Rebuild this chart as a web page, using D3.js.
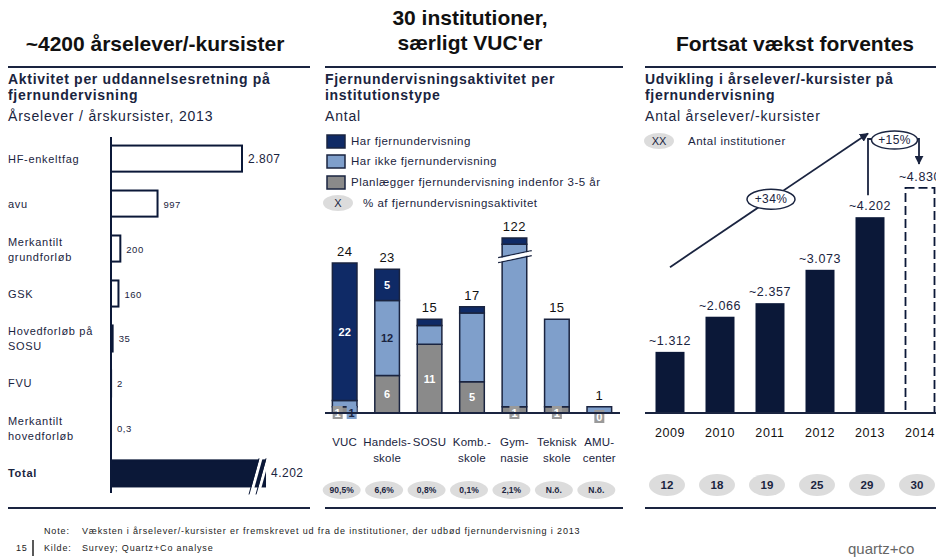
<!DOCTYPE html>
<html>
<head>
<meta charset="utf-8">
<script src="https://cdn.jsdelivr.net/npm/d3@7"></script>
<style>
  body { margin: 0; background: #fff; }
  svg { font-family: "Liberation Sans", Arial, sans-serif; }
</style>
</head>
<body>
<svg id="chart" width="936" height="558"></svg>
<script>
// ---- data: left panel (årselever per uddannelsesretning, 2013)
const leftCategories = ["HF-enkeltfag", "avu", "Merkantilt\ngrundforløb", "GSK", "Hovedforløb på\nSOSU", "FVU", "Merkantilt\nhovedforløb", "Total"];
const leftValues = [2807, 997, 200, 160, 35, 2, 0.3, 4202];
const leftLabels = ["2.807", "997", "200", "160", "35", "2", "0,3", "4.202"];

// ---- data: middle panel (institutioner per type)
const instCategories = ["VUC", "Handels-\nskole", "SOSU", "Komb.-\nskole", "Gym-\nnasie", "Teknisk\nskole", "AMU-\ncenter"];
const planlaegger = [1, 6, 11, 5, 1, 1, 0];
const harIkke = [1, 12, 3, 11, 120, 14, 1];
const harFjern = [22, 5, 1, 1, 1, 0, 0];
const instTotals = [24, 23, 15, 17, 122, 15, 1];
const harFjernLabels = ["22", "5", "", "", "", "", ""];
const harIkkeLabels = ["1", "12", "", "", "", "", ""];
const planLabels = ["1", "6", "11", "5", "1", "1", "0"];
const pctLabels = ["90,5%", "6,6%", "0,8%", "0,1%", "2,1%", "N.ö.", "N.ö."];

// ---- data: right panel (udvikling)
const years = ["2009", "2010", "2011", "2012", "2013", "2014"];
const students = [1312, 2066, 2357, 3073, 4202, 4830];
const studentLabels = ["~1.312", "~2.066", "~2.357", "~3.073", "~4.202", "~4.830"];
const institutions = [12, 18, 19, 25, 29, 30];

const navy = "#0b1838";
const midDark = "#0f2a66";
const midLight = "#7f9fcb";
const midGray = "#8a8a8a";
const textNavy = "#1a2440";

const svg = d3.select("#chart");

function multiText(sel, str, lineH) {
    const lines = str.split("\n");
    lines.forEach((l, i) => {
        sel.append("tspan").attr("x", sel.attr("x")).attr("dy", i === 0 ? 0 : lineH).text(l);
    });
}

// ---- panel headers and rules
const headers = [
    { x: 155, lines: ["~4200 årselever/-kursister"], y: 51 },
    { x: 470, lines: ["30 institutioner,", "særligt VUC'er"], y: 25 },
    { x: 795, lines: ["Fortsat vækst forventes"], y: 51 }
];
headers.forEach(h => {
    const t = svg.append("text")
        .attr("x", h.x).attr("y", h.y)
        .attr("text-anchor", "middle")
        .attr("font-family", "'Liberation Sans Narrow', 'Arial Narrow', sans-serif")
        .attr("font-weight", "bold")
        .attr("font-size", 21)
        .attr("fill", "#111");
    multiText(t, h.lines.join("\n"), 25);
});

[[8, 310], [325, 623], [645, 936]].forEach(([a, b]) => {
    svg.append("line").attr("x1", a).attr("x2", b).attr("y1", 67).attr("y2", 67)
        .attr("stroke", textNavy).attr("stroke-width", 2);
    svg.append("line").attr("x1", a).attr("x2", b).attr("y1", 508).attr("y2", 508)
        .attr("stroke", textNavy).attr("stroke-width", 2);
});

function panelTitle(x, bold, sub) {
    const t = svg.append("text").attr("x", x).attr("y", 84)
        .attr("font-size", 14).attr("letter-spacing", 0.7)
        .attr("font-weight", "bold").attr("fill", textNavy);
    multiText(t, bold, 16);
    svg.append("text").attr("x", x).attr("y", 121)
        .attr("font-size", 14).attr("letter-spacing", 0.8)
        .attr("fill", textNavy).text(sub);
}
panelTitle(8, "Aktivitet per uddannelsesretning  på\nfjernundervisning", "Årselever  / årskursister,  2013");
panelTitle(325, "Fjernundervisningsaktivitet per\ninstitutionstype", "Antal");
panelTitle(645, "Udvikling i årselever/-kursister  på\nfjernundervisning", "Antal årselever/-kursister");

// ---- left panel: horizontal bars
const xL = d3.scaleLinear().domain([0, 2807]).range([111, 242]);
const yL = d3.scaleBand().domain(leftCategories).range([137, 495]).paddingInner(0.42).paddingOuter(0.19);
const leftCap = 3300; // Total is drawn with a break

const left = svg.append("g");
left.selectAll("rect.lbar")
    .data(leftValues)
    .enter()
    .append("rect")
    .attr("class", "lbar")
    .attr("x", xL(0))
    .attr("y", (d, i) => yL(leftCategories[i]))
    .attr("width", (d) => xL(Math.min(d, leftCap)) - xL(0))
    .attr("height", yL.bandwidth())
    .attr("fill", (d, i) => leftCategories[i] === "Total" ? navy : "#fff")
    .attr("stroke", navy)
    .attr("stroke-width", 2);

left.append("line")
    .attr("x1", xL(0)).attr("x2", xL(0))
    .attr("y1", 137).attr("y2", 493)
    .attr("stroke", navy).attr("stroke-width", 2);

// break marks on Total
const tY = yL("Total"), tH = yL.bandwidth(), tEnd = xL(leftCap);
[-12, -5].forEach(off => {
    left.append("line")
        .attr("x1", tEnd + off - 2).attr("y1", tY + tH + 8)
        .attr("x2", tEnd + off + 8).attr("y2", tY - 2)
        .attr("stroke", "#fff").attr("stroke-width", 3);
    left.append("line")
        .attr("x1", tEnd + off - 4).attr("y1", tY + tH + 8)
        .attr("x2", tEnd + off + 6).attr("y2", tY - 2)
        .attr("stroke", navy).attr("stroke-width", 1);
});

left.selectAll("text.lcat")
    .data(leftCategories)
    .enter()
    .append("text")
    .attr("class", "lcat")
    .attr("x", 8)
    .attr("y", d => yL(d) + yL.bandwidth() / 2 + 4 - (d.includes("\n") ? 7 : 0))
    .attr("font-size", 11)
    .attr("letter-spacing", 0.7)
    .attr("font-weight", d => d === "Total" ? "bold" : "normal")
    .attr("fill", textNavy)
    .each(function (d) { multiText(d3.select(this), d, 15); });

left.selectAll("text.lval")
    .data(leftValues)
    .enter()
    .append("text")
    .attr("class", "lval")
    .attr("x", (d) => xL(Math.min(d, leftCap)) + 6)
    .attr("y", (d, i) => yL(leftCategories[i]) + yL.bandwidth() / 2 + 4)
    .attr("font-size", (d, i) => i === 0 || i === 7 ? 12 : 9.5)
    .attr("letter-spacing", 0.5)
    .attr("fill", textNavy)
    .text((d, i) => leftLabels[i]);

// ---- middle panel: stacked bars
const xM = d3.scaleBand().domain(instCategories).range([326, 618]).paddingInner(0.42).paddingOuter(0.15);
const midCap = 28;
const yM = d3.scaleLinear().domain([0, midCap]).range([413, 238]);

const series = [
    { name: "plan", values: planlaegger, labels: planLabels, color: midGray },
    { name: "ikke", values: harIkke, labels: harIkkeLabels, color: midLight },
    { name: "har", values: harFjern, labels: harFjernLabels, color: midDark }
];

// legend
const legendItems = [
    { color: midDark, text: "Har fjernundervisning", y: 135 },
    { color: midLight, text: "Har ikke fjernundervisning", y: 155 },
    { color: midGray, text: "Planlægger fjernundervisning indenfor 3-5 år", y: 176 }
];
legendItems.forEach(l => {
    svg.append("rect").attr("x", 327).attr("y", l.y).attr("width", 18).attr("height", 13)
        .attr("fill", l.color).attr("stroke", textNavy).attr("stroke-width", 1.5);
    svg.append("text").attr("x", 351).attr("y", l.y + 10).attr("font-size", 11.5)
        .attr("letter-spacing", 0.5)
        .attr("fill", textNavy).text(l.text);
});
svg.append("ellipse").attr("cx", 338).attr("cy", 203).attr("rx", 15).attr("ry", 8).attr("fill", "#dcdcdc");
svg.append("text").attr("x", 338).attr("y", 207).attr("text-anchor", "middle").attr("font-size", 11)
    .attr("fill", textNavy).text("X");
svg.append("text").attr("x", 363).attr("y", 207).attr("font-size", 11.5).attr("letter-spacing", 0.5)
    .attr("fill", textNavy).text("% af fjernundervisningsaktivitet");

const mid = svg.append("g");
instCategories.forEach((cat, i) => {
    const total = instTotals[i];
    const shift = total > midCap ? total - midCap : 0;
    const brokenStart = planlaegger[i];
    const disp = v => (shift && v > brokenStart) ? v - shift : v;
    let cum = 0;
    const x0 = xM(cat), bw = xM.bandwidth(), cx = x0 + bw / 2;
    const baseBoxes = [];
    series.forEach(s => {
        const v = s.values[i];
        const lo = cum, hi = cum + v;
        cum = hi;
        if (v > 0) {
            mid.append("rect")
                .attr("x", x0).attr("width", bw)
                .attr("y", yM(disp(hi)))
                .attr("height", yM(disp(lo)) - yM(disp(hi)))
                .attr("fill", s.color)
                .attr("stroke", textNavy).attr("stroke-width", 1.5);
        }
        const lab = s.labels[i];
        if (lab === "") return;
        if (v <= 1 && lo < 2) {
            baseBoxes.push(s);
        } else {
            mid.append("text")
                .attr("x", cx).attr("y", (yM(disp(lo)) + yM(disp(hi))) / 2 + 4)
                .attr("text-anchor", "middle").attr("font-size", 11).attr("font-weight", "bold")
                .attr("fill", s.name === "ikke" ? textNavy : "#fff")
                .text(lab);
        }
    });
    // small values sit on the baseline in little boxes
    baseBoxes.forEach((s, k) => {
        const bx = baseBoxes.length > 1 ? cx + (k === 0 ? -7 : 7) : cx;
        const by = total <= 1 ? yM(0) + 4 : yM(0);
        mid.append("rect").attr("x", bx - 5).attr("y", by - 7).attr("width", 10).attr("height", 13)
            .attr("fill", s.name === "plan" ? "#9a9a9a" : midLight);
        mid.append("text").attr("x", bx).attr("y", by + 4).attr("text-anchor", "middle")
            .attr("font-size", 11).attr("font-weight", "bold")
            .attr("fill", s.name === "plan" ? "#fff" : textNavy).text(s.labels[i]);
    });
    // total on top
    mid.append("text")
        .attr("x", cx).attr("y", yM(disp(total)) - 7)
        .attr("text-anchor", "middle").attr("font-size", 13).attr("letter-spacing", 0.5)
        .attr("fill", "#111")
        .text(total);
    // break marks
    if (shift) {
        const by = yM(25.5);
        [0, 5].forEach(off => {
            mid.append("line")
                .attr("x1", x0 - 4).attr("y1", by + 4 + off)
                .attr("x2", x0 + bw + 5).attr("y2", by - 3 + off)
                .attr("stroke", textNavy).attr("stroke-width", 1.2);
        });
        mid.append("line")
            .attr("x1", x0 - 3).attr("y1", by + 6.5)
            .attr("x2", x0 + bw + 4).attr("y2", by - 0.5)
            .attr("stroke", "#fff").attr("stroke-width", 3.5);
    }
});
mid.append("line").attr("x1", 325).attr("x2", 620).attr("y1", yM(0)).attr("y2", yM(0))
    .attr("stroke", textNavy).attr("stroke-width", 2);

mid.selectAll("text.mcat")
    .data(instCategories)
    .enter()
    .append("text")
    .attr("class", "mcat")
    .attr("x", d => xM(d) + xM.bandwidth() / 2)
    .attr("y", 446)
    .attr("text-anchor", "middle")
    .attr("font-size", 11.5)
    .attr("letter-spacing", 0.2)
    .attr("fill", textNavy)
    .each(function (d) { multiText(d3.select(this), d, 16); });

mid.selectAll("ellipse.pct")
    .data(pctLabels)
    .enter()
    .append("ellipse")
    .attr("class", "pct")
    .attr("cx", (d, i) => xM(instCategories[i]) + xM.bandwidth() / 2 - 3)
    .attr("cy", 490).attr("rx", 19).attr("ry", 9)
    .attr("fill", "#dcdcdc");
mid.selectAll("text.pct")
    .data(pctLabels)
    .enter()
    .append("text")
    .attr("class", "pct")
    .attr("x", (d, i) => xM(instCategories[i]) + xM.bandwidth() / 2 - 3)
    .attr("y", 493)
    .attr("text-anchor", "middle")
    .attr("font-size", 8.5)
    .attr("font-weight", "bold")
    .attr("fill", textNavy)
    .text(d => d);

// ---- right panel: growth bars
const xR = d3.scaleBand().domain(years).range([645, 945]).paddingInner(0.42).paddingOuter(0.21);
const yR = d3.scaleLinear().domain([0, 5000]).range([413, 180]);
const cxR = y => xR(y) + xR.bandwidth() / 2;

svg.append("ellipse").attr("cx", 659).attr("cy", 141).attr("rx", 15).attr("ry", 8).attr("fill", "#dcdcdc");
svg.append("text").attr("x", 659).attr("y", 145).attr("text-anchor", "middle").attr("font-size", 11)
    .attr("fill", textNavy).text("XX");
svg.append("text").attr("x", 688).attr("y", 145).attr("font-size", 11.5).attr("letter-spacing", 0.5)
    .attr("fill", textNavy).text("Antal institutioner");

const right = svg.append("g");
right.selectAll("rect.rbar")
    .data(students)
    .enter()
    .append("rect")
    .attr("class", "rbar")
    .attr("x", (d, i) => xR(years[i]))
    .attr("y", d => yR(d))
    .attr("width", xR.bandwidth())
    .attr("height", d => yR(0) - yR(d))
    .attr("fill", (d, i) => years[i] === "2014" ? "none" : navy)
    .attr("stroke", navy)
    .attr("stroke-width", (d, i) => years[i] === "2014" ? 1.8 : 0)
    .attr("stroke-dasharray", (d, i) => years[i] === "2014" ? "9,4" : null);

right.append("line").attr("x1", 645).attr("x2", 936).attr("y1", yR(0)).attr("y2", yR(0))
    .attr("stroke", textNavy).attr("stroke-width", 2);

right.selectAll("text.rval")
    .data(students)
    .enter()
    .append("text")
    .attr("class", "rval")
    .attr("x", (d, i) => cxR(years[i]))
    .attr("y", d => yR(d) - 7)
    .attr("text-anchor", "middle")
    .attr("font-size", 12.5)
    .attr("letter-spacing", 0.6)
    .attr("fill", textNavy)
    .text((d, i) => studentLabels[i]);

right.selectAll("text.year")
    .data(years)
    .enter()
    .append("text")
    .attr("class", "year")
    .attr("x", d => cxR(d))
    .attr("y", 437)
    .attr("text-anchor", "middle")
    .attr("font-size", 12.5)
    .attr("letter-spacing", 0.6)
    .attr("fill", "#111")
    .text(d => d);

right.selectAll("ellipse.inst")
    .data(institutions)
    .enter()
    .append("ellipse")
    .attr("class", "inst")
    .attr("cx", (d, i) => cxR(years[i]) - 3)
    .attr("cy", 485).attr("rx", 18).attr("ry", 11)
    .attr("fill", "#dcdcdc");
right.selectAll("text.inst")
    .data(institutions)
    .enter()
    .append("text")
    .attr("class", "inst")
    .attr("x", (d, i) => cxR(years[i]) - 3)
    .attr("y", 489)
    .attr("text-anchor", "middle")
    .attr("font-size", 11.5)
    .attr("font-weight", "bold")
    .attr("fill", textNavy)
    .text(d => d);

// growth arrows
const defs = svg.append("defs");
defs.append("marker").attr("id", "arrow").attr("viewBox", "0 0 10 10")
    .attr("refX", 9).attr("refY", 5).attr("markerWidth", 5).attr("markerHeight", 5)
    .attr("orient", "auto")
    .append("path").attr("d", "M0,0 L10,5 L0,10 z").attr("fill", textNavy);

const gx0 = cxR("2009"), gy0 = yR(3130);
const gx1 = cxR("2013") - 2, gy1 = yR(6000);
right.append("line").attr("x1", gx0).attr("y1", gy0).attr("x2", gx1).attr("y2", gy1)
    .attr("stroke", textNavy).attr("stroke-width", 1.8).attr("marker-end", "url(#arrow)");
const m34 = [(gx0 + gx1) / 2 + 2, (gy0 + gy1) / 2 - 1];
right.append("ellipse").attr("cx", m34[0]).attr("cy", m34[1]).attr("rx", 24).attr("ry", 10)
    .attr("fill", "#fff").attr("stroke", textNavy).attr("stroke-width", 1.5);
right.append("text").attr("x", m34[0]).attr("y", m34[1] + 4).attr("text-anchor", "middle")
    .attr("font-size", 12).attr("letter-spacing", 0.4).attr("fill", textNavy).text("+34%");

const vx = cxR("2013") - 2, topY = yR(5880), dx = cxR("2014") - 1;
right.append("path")
    .attr("d", `M${vx},${yR(4202) - 22} L${vx},${topY} L${dx},${topY} L${dx},${yR(4830) - 24}`)
    .attr("fill", "none").attr("stroke", textNavy).attr("stroke-width", 1.8)
    .attr("marker-end", "url(#arrow)");
right.append("ellipse").attr("cx", (vx + dx) / 2 + 1).attr("cy", topY + 1).attr("rx", 23).attr("ry", 9)
    .attr("fill", "#fff").attr("stroke", textNavy).attr("stroke-width", 1.5);
right.append("text").attr("x", (vx + dx) / 2 + 1).attr("y", topY + 5).attr("text-anchor", "middle")
    .attr("font-size", 12).attr("letter-spacing", 0.4).attr("fill", textNavy).text("+15%");

// ---- footer
const foot = svg.append("g").attr("font-size", 9).attr("letter-spacing", 0.85).attr("fill", "#222");
foot.append("text").attr("x", 44).attr("y", 534).text("Note:");
foot.append("text").attr("x", 82).attr("y", 534)
    .text("Væksten i årselever/-kursister  er fremskrevet ud fra de institutioner,  der udbød fjernundervisning  i 2013");
foot.append("text").attr("x", 44).attr("y", 551).text("Kilde:");
foot.append("text").attr("x", 82).attr("y", 551).text("Survey; Quartz+Co analyse");
foot.append("text").attr("x", 16).attr("y", 551).text("15");
svg.append("line").attr("x1", 33).attr("x2", 33).attr("y1", 540).attr("y2", 556)
    .attr("stroke", "#222").attr("stroke-width", 1.5);
svg.append("text").attr("x", 848).attr("y", 554).attr("font-size", 15)
    .attr("fill", "#666").text("quartz+co");
</script>
</body>
</html>
